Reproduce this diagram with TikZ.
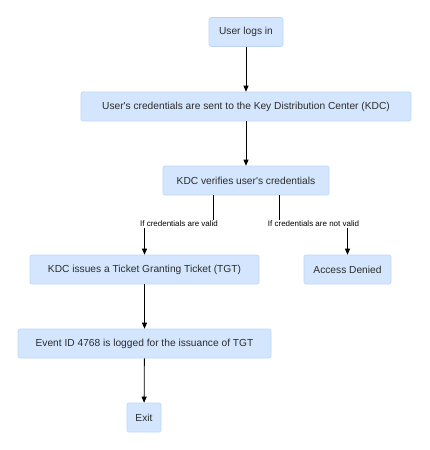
\documentclass[tikz,border=0pt]{standalone}
\usepackage{fontspec}
\setmainfont{Liberation Sans}[Ligatures=TeXOff]
\usetikzlibrary{arrows.meta}
\definecolor{boxfill}{HTML}{D4E6FD}
\definecolor{boxline}{HTML}{BCD5F7}
\definecolor{txt}{HTML}{2B2B2B}
\tikzset{
  stepbox/.style={draw=boxline, fill=boxfill, rounded corners=2pt, line width=0.6pt,
    inner sep=0pt, minimum height=29pt, font=\fontsize{10.2}{12}\selectfont, text=txt},
  conn/.style={draw=black, line width=0.8pt, -{Triangle[length=6pt,width=5pt]}},
  lbl/.style={fill=white, inner sep=1pt, font=\fontsize{8}{9}\selectfont, text=black}
}
\begin{document}
\begin{tikzpicture}[x=1pt,y=-1pt]
\useasboundingbox (0,0) rectangle (429,450);
\node[stepbox, minimum width=74pt] (login) at (246,32) {User logs in};
\node[stepbox, minimum width=330pt] (send) at (246,106.5) {User's credentials are sent to the Key Distribution Center (KDC)};
\node[stepbox, minimum width=166pt] (verify) at (246,180.5) {KDC verifies user's credentials};
\node[stepbox, minimum width=229pt] (issue) at (144.5,269.5) {KDC issues a Ticket Granting Ticket (TGT)};
\node[stepbox, minimum width=87pt] (denied) at (347.5,269.5) {Access Denied};
\node[stepbox, minimum width=253pt] (event) at (144.5,343.5) {Event ID 4768 is logged for the issuance of TGT};
\node[stepbox, minimum width=34pt] (exit) at (144,417.5) {Exit};

\draw[conn] (login) -- (send);
\draw[conn] (send) -- (verify);
\draw[conn] (verify.south -| 213,0) |- (178.5,224) -| (issue.north);
\draw[conn] (verify.south -| 279,0) |- (313.5,224) -| (denied.north);
\node[lbl] (lv) at (179,224) {If credentials are valid};
\node[lbl] (lnv) at (313.5,224) {If credentials are not valid};
\draw[conn] (issue) -- (event);
\draw[conn] (event) -- (exit);
\end{tikzpicture}
\end{document}
